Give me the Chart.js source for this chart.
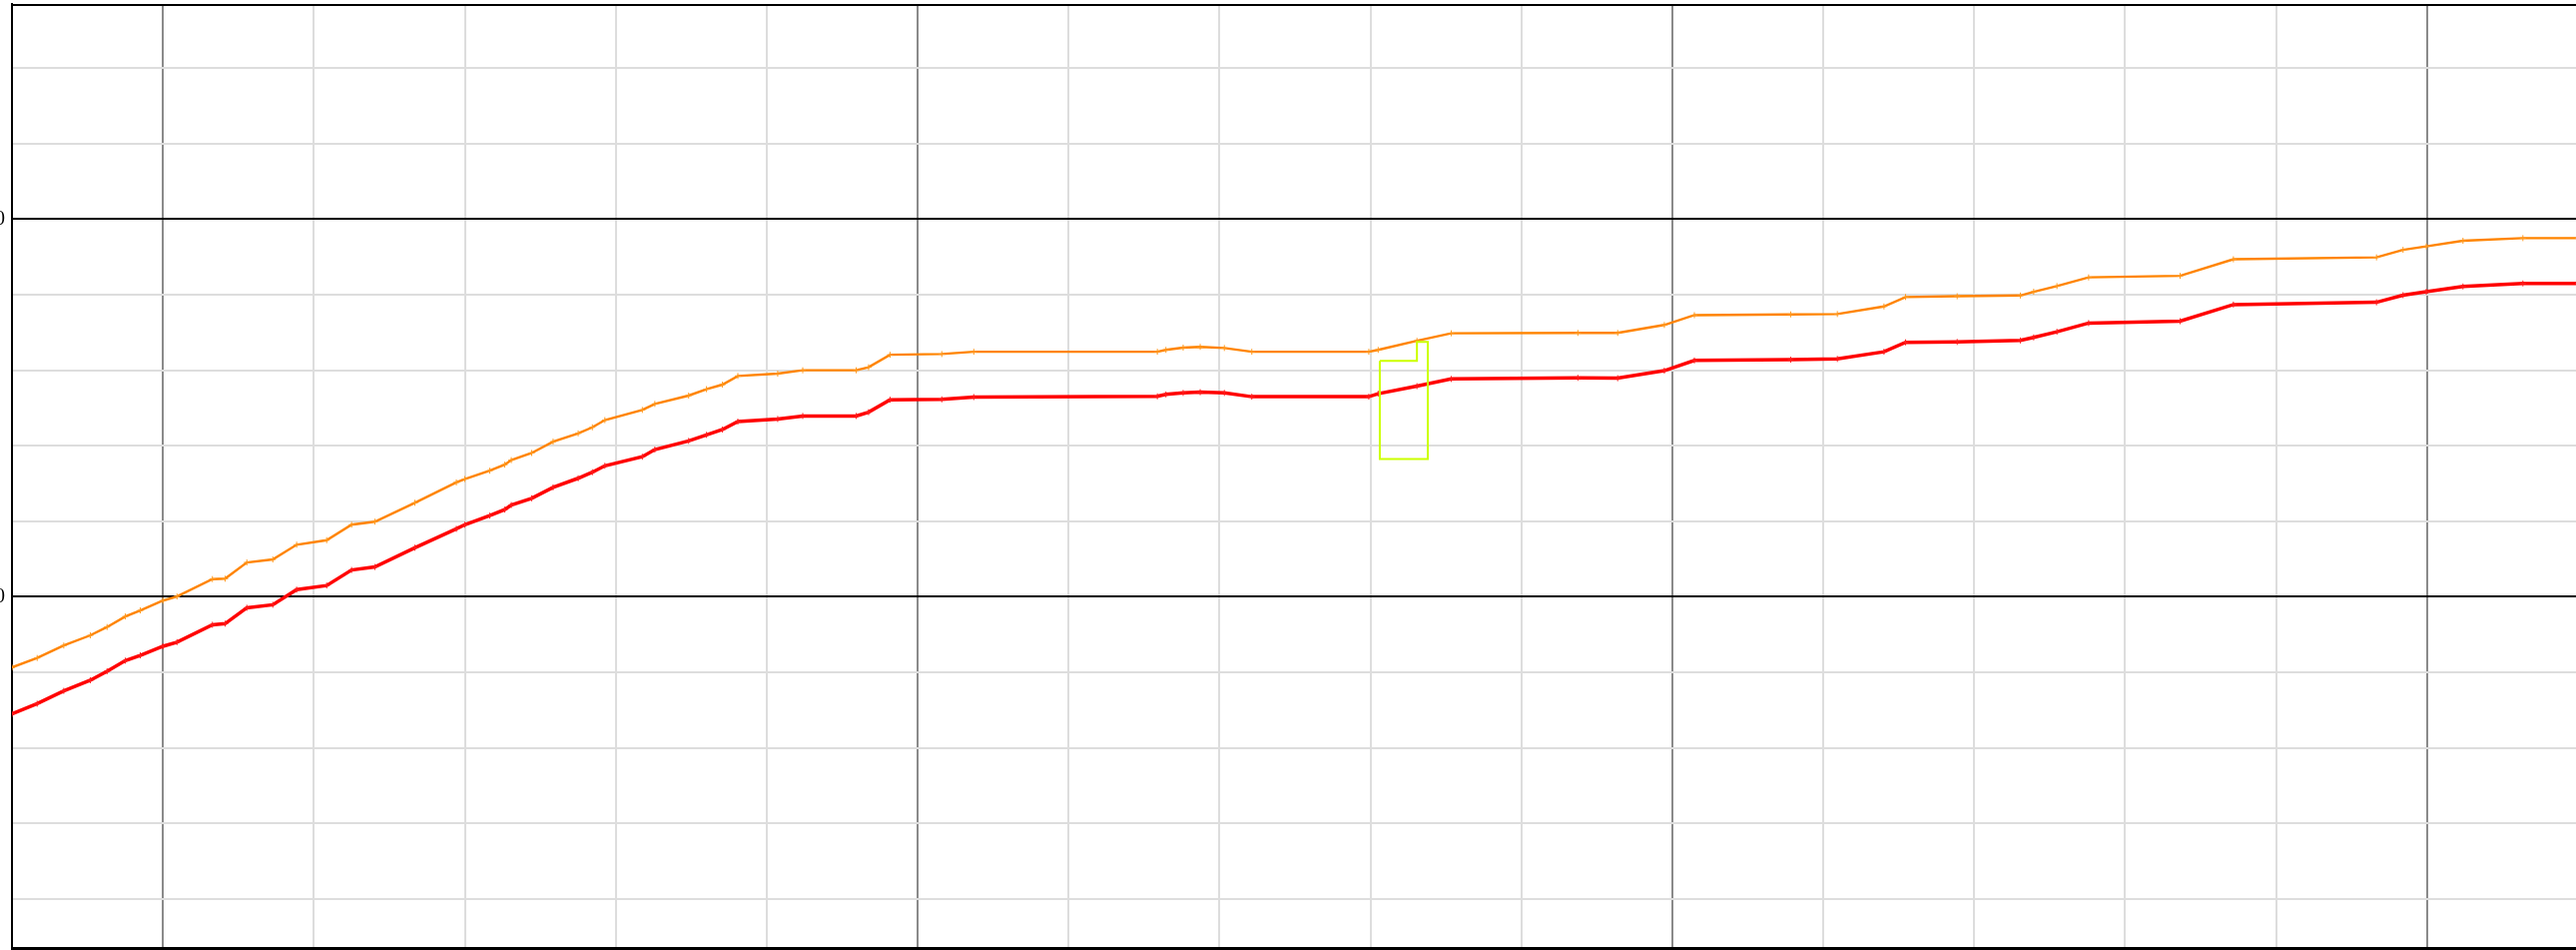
<!DOCTYPE html>
<html>
<head>
<meta charset="utf-8">
<script src="https://cdn.jsdelivr.net/npm/chart.js@4.4.1/dist/chart.umd.min.js"></script>
<style>
  html, body { margin: 0; padding: 0; background: #fff; overflow: hidden; width: 2580px; height: 951px; }
  #wrap { position: absolute; left: -48px; top: 4px; width: 2631px; height: 985px; }
</style>
</head>
<body>
<div id="wrap"><canvas id="myChart"></canvas></div>
<script>
// Data
const xs = [4.000, 4.167, 4.343, 4.519, 4.630, 4.751, 4.850, 5.000, 5.093, 5.328,
    5.412, 5.556, 5.728, 5.886, 6.085, 6.250, 6.404, 6.669, 6.944, 7.000,
    7.165, 7.264, 7.308, 7.443, 7.585, 7.751, 7.845, 7.928, 8.176, 8.259,
    8.483, 8.601, 8.707, 8.809, 9.073, 9.239, 9.593, 9.675, 9.817, 10.160,
    10.372, 11.588, 11.645, 11.759, 11.872, 12.032, 12.214, 12.989, 13.051, 13.308,
    13.535, 14.374, 14.638, 14.947, 15.146, 15.784, 16.093, 16.402, 16.545, 16.887,
    17.306, 17.394, 17.548, 17.758, 18.364, 18.717, 19.665, 19.841, 19.995, 20.238,
    20.635, 21.000]
const orangeY = [81.3, 83.8, 87.1, 89.8, 92.0, 94.8, 96.4, 99.0, 100.1, 104.7,
    104.8, 109.1, 109.9, 113.8, 115.0, 119.1, 119.9, 124.9, 130.3, 131.2,
    133.4, 135.0, 136.2, 138.1, 141.1, 143.3, 144.9, 146.8, 149.5, 151.1,
    153.3, 155.0, 156.2, 158.5, 159.1, 160.0, 160.0, 160.8, 164.1, 164.3,
    164.9, 164.9, 165.4, 166.0, 166.2, 165.9, 164.9, 164.9, 165.4, 167.8,
    169.8, 169.9, 169.9, 172.0, 174.6, 174.8, 174.9, 176.9, 179.4, 179.6,
    179.8, 180.8, 182.3, 184.6, 185.0, 189.4, 189.9, 191.9, 192.8, 194.3,
    195.0, 195.0]
const redY = [69.0, 71.7, 75.1, 77.9, 80.3, 83.1, 84.5, 86.9, 88.0, 92.6,
    92.9, 97.1, 97.9, 101.9, 103.0, 107.1, 107.9, 113.0, 118.0, 119.1,
    121.5, 123.1, 124.3, 126.1, 129.0, 131.4, 133.0, 134.7, 137.1, 139.0,
    141.3, 142.9, 144.3, 146.4, 147.1, 147.9, 147.9, 148.9, 152.2, 152.3,
    152.9, 153.1, 153.6, 154.0, 154.2, 154.0, 153.0, 153.0, 153.8, 155.8,
    157.7, 158.0, 157.9, 159.9, 162.6, 162.8, 163.0, 164.9, 167.4, 167.5,
    167.9, 168.7, 170.2, 172.5, 173.0, 177.4, 178.0, 179.9, 180.8, 182.2,
    183.0, 183.0]

// yellow outline
const boxX = [13.062, 13.308, 13.308, 13.380, 13.380, 13.062, 13.062]
const boxY = [162.5, 162.5, 167.5, 167.5, 136.5, 136.5, 162.5]

// axes
const xMin = 4, xMax = 21
const yMin = 7, yMax = 257
const xTicks = [5, 6, 7, 8, 9, 10, 11, 12, 13, 14, 15, 16, 17, 18, 19, 20]
const xMajorTicks = [5, 10, 15, 20]
const yTicks = [20, 40, 60, 80, 100, 120, 140, 160, 180, 200, 220, 240]
const yMajorTicks = [100, 200]
const yLabels = ["100", "200"]

// where the plot box must land on the page
const areaLeft = 12, areaTop = 4, areaWidth = 2570, areaHeight = 945

function toPoints(xArr, yArr) {
    return xArr.map((x, i) => ({ x: x, y: yArr[i] }))
}

// top frame line
const frameTop = {
    id: 'frameTop',
    afterDraw(chart) {
        const { ctx, chartArea } = chart
        ctx.save()
        ctx.strokeStyle = '#000'
        ctx.lineWidth = 2
        ctx.beginPath()
        ctx.moveTo(chartArea.left, chartArea.top + 1)
        ctx.lineTo(chartArea.right, chartArea.top + 1)
        ctx.stroke()
        ctx.restore()
    }
}

const wrap = document.getElementById('wrap')
const myChart = new Chart(document.getElementById('myChart'), {
    type: 'line',
    data: {
        datasets: [
            {
                data: toPoints(boxX, boxY),
                borderColor: '#ccff00',
                borderWidth: 2,
                pointRadius: 0,
                tension: 0
            },
            {
                data: toPoints(xs, redY),
                borderColor: '#ff0000',
                borderWidth: 3.5,
                pointStyle: 'cross',
                pointRadius: 3,
                pointBorderWidth: 1,
                pointBorderColor: '#ff2020',
                tension: 0
            },
            {
                data: toPoints(xs, orangeY),
                borderColor: '#ff8400',
                borderWidth: 2.4,
                pointStyle: 'cross',
                pointRadius: 3,
                pointBorderWidth: 1,
                pointBorderColor: '#ff9a20',
                tension: 0
            }
        ]
    },
    options: {
        responsive: true,
        maintainAspectRatio: false,
        animation: false,
        layout: { padding: 0 },
        plugins: {
            legend: { display: false },
            tooltip: { enabled: false }
        },
        scales: {
            x: {
                type: 'linear',
                min: xMin,
                max: xMax,
                afterBuildTicks: (axis) => { axis.ticks = xTicks.map(v => ({ value: v })) },
                afterFit: (axis) => { axis.height = 40; axis.paddingLeft = 0; axis.paddingRight = 0 },
                ticks: { display: false },
                grid: {
                    drawTicks: false,
                    lineWidth: 2,
                    color: (c) => xMajorTicks.includes(c.tick.value) ? '#8a8a8a' : '#dddddd'
                },
                border: { display: true, color: '#000', width: 3 }
            },
            y: {
                min: yMin,
                max: yMax,
                afterBuildTicks: (axis) => { axis.ticks = yTicks.map(v => ({ value: v })) },
                afterFit: (axis) => { axis.width = 60; axis.paddingTop = 0; axis.paddingBottom = 0 },
                ticks: {
                    autoSkip: false,
                    padding: 7,
                    color: '#000',
                    font: { family: 'Liberation Serif', size: 20 },
                    callback: (value) => {
                        const i = yMajorTicks.indexOf(value)
                        return i >= 0 ? yLabels[i] : ''
                    }
                },
                grid: {
                    drawTicks: false,
                    lineWidth: 2,
                    color: (c) => yMajorTicks.includes(c.tick.value) ? '#000000' : '#dddddd'
                },
                border: { display: true, color: '#000', width: 2 }
            }
        }
    },
    plugins: [frameTop]
})

// resize the box so the plot area gets exactly the wanted size, then shift it into place
let a = myChart.chartArea
const extraW = myChart.width - a.width
const extraH = myChart.height - a.height
wrap.style.width = (areaWidth + extraW) + 'px'
wrap.style.height = (areaHeight + extraH) + 'px'
myChart.resize()
a = myChart.chartArea
wrap.style.left = (areaLeft - a.left) + 'px'
wrap.style.top = (areaTop - a.top) + 'px'
</script>
</body>
</html>
